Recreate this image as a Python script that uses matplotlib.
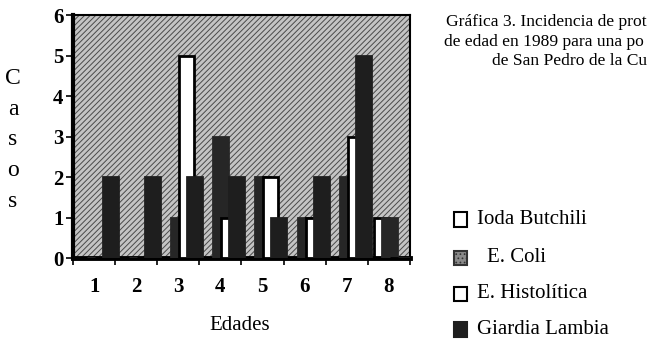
import matplotlib.pyplot as plt
from matplotlib.patches import Rectangle
import numpy as np

plt.rcParams['font.family'] = ['Liberation Serif', 'DejaVu Serif']
plt.rcParams['hatch.linewidth'] = 0.7

edades = ['1', '2', '3', '4', '5', '6', '7', '8']
series = ['Ioda Butchili', 'E. Coli', 'E. Histolítica', 'Giardia Lambia']
ioda = [0, 0, 0, 0, 0, 0, 0, 1]
coli = [0, 0, 1, 3, 2, 1, 2, 1]
histolitica = [0, 0, 5, 1, 2, 1, 3, 0]
giardia = [2, 2, 2, 2, 1, 2, 5, 0]
titulo = ['Gráfica 3. Incidencia de prot', 'de edad en 1989 para una po', 'de San Pedro de la Cu']

fig = plt.figure(figsize=(6.49, 3.41), dpi=100)
ax = fig.add_axes([0.1125, 0.2434, 0.519, 0.7126])

# hatched grey plot area (old Excel look)
ax.add_patch(Rectangle((0, 0), 1, 1, transform=ax.transAxes, facecolor='#c4c4c4',
                       edgecolor='#4a4a4a', hatch='//////', lw=0, zorder=0))

x = np.arange(1, len(edades) + 1)
w = 0.357   # bar width
s = 0.19    # step between overlapping bars
start = -0.357
styles = [('white', 'black'), ('#262626', '#262626'), ('white', 'black'), ('#1e1e1e', '#1e1e1e')]
for k, vals in enumerate([ioda, coli, histolitica, giardia]):
    fc, ec = styles[k]
    ax.bar(x + start + k * s, vals, width=w, align='edge', color=fc, edgecolor=ec,
           linewidth=2.0, zorder=2 + k)

ax.set_xlim(0.5, 8.5)
ax.set_ylim(0, 6)
ax.set_xticks(np.arange(0.5, 9, 1))
ax.set_xticklabels([])
ax.set_xticks(x, minor=True)
ax.set_xticklabels(edades, minor=True, fontsize=15, fontweight='bold')
ax.tick_params(axis='x', which='major', direction='out', length=5, width=1.2)
ax.tick_params(axis='x', which='minor', length=0, pad=14)
ax.set_yticks(range(7))
ax.set_yticklabels([str(v) for v in range(7)], fontsize=15, fontweight='bold')
ax.tick_params(axis='y', direction='out', length=5, width=1.2, pad=2)
for sp in ax.spines.values():
    sp.set_linewidth(1.5)
ax.spines['left'].set_linewidth(3)
ax.spines['bottom'].set_linewidth(3.5)

fig.text(0.020, 0.80, 'C\na\ns\no\ns', fontsize=17, ha='center', va='top', linespacing=1.6)
fig.text(0.37, 0.045, 'Edades', fontsize=15, ha='center', va='center')

fig.text(0.687, 0.935, titulo[0], fontsize=12.6, ha='left', va='center')
fig.text(0.684, 0.878, titulo[1], fontsize=12.6, ha='left', va='center')
fig.text(0.758, 0.822, titulo[2], fontsize=12.6, ha='left', va='center')

# legend
leg_y = [0.357, 0.245, 0.138, 0.035]
swatch = [dict(facecolor='white', edgecolor='black'),
          dict(facecolor='#8a8a8a', edgecolor='#333333', hatch='....'),
          dict(facecolor='white', edgecolor='black'),
          dict(facecolor='#1e1e1e', edgecolor='#1e1e1e')]
text_x = [0.735, 0.750, 0.735, 0.735]
for name, yy, sw, tx in zip(series, leg_y, swatch, text_x):
    fig.patches.append(Rectangle((0.700, yy - 0.022), 0.020, 0.042, transform=fig.transFigure,
                                 lw=1.5, **sw))
    fig.text(tx, yy, name, fontsize=15, ha='left', va='center')

fig.savefig('out.png', dpi=100)
